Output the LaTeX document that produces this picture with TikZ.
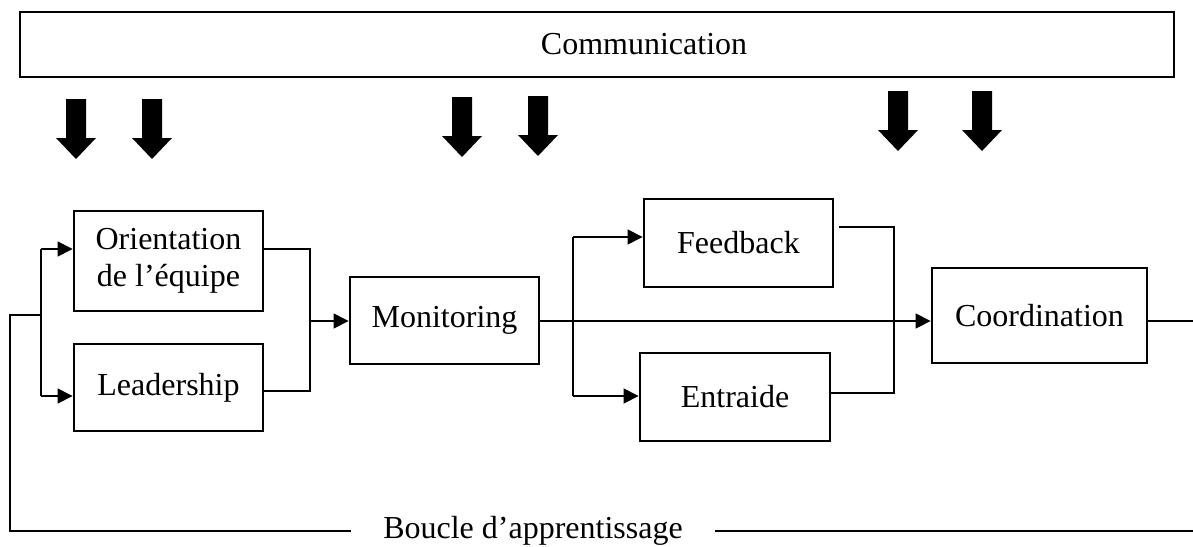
\documentclass[tikz,border=0pt]{standalone}
\usepackage{fontspec}
\setmainfont{Liberation Serif}
\usetikzlibrary{arrows.meta}
\begin{document}
\begin{tikzpicture}[x=1pt,y=-1pt,
  box/.style={draw,line width=2.8pt,inner sep=0pt,align=center,font=\fontsize{32}{37}\selectfont},
  lbl/.style={inner sep=0pt,font=\fontsize{32}{37}\selectfont},
  conn/.style={line width=1.1pt},
  arr/.style={conn,-{Triangle[length=15pt,width=15pt]}},
  blockarrow/.pic={\fill (-10,0) -- (10,0) -- (10,39) -- (20,39) -- (0,60) -- (-20,39) -- (-10,39) -- cycle;}
]
\useasboundingbox (0,0) rectangle (1193,546);

% Communication bar
\node[box,minimum width=1154,minimum height=65] (comm) at (597,44.5) {};
\node[lbl] (commtext) at (644,44.5) {Communication};

% block arrows
\foreach \x/\y in {76/99,152/99,462/97,538/96,898/91,982/91}
  \pic at (\x,\y) {blockarrow};

% boxes
\node[box,minimum width=189,minimum height=100] (orient) at (168.5,261) {Orientation\\de l’équipe};
\node[box,minimum width=189,minimum height=87] (lead) at (168.5,387.5) {Leadership};
\node[box,minimum width=189,minimum height=87] (mon) at (444.5,320.5) {Monitoring};
\node[box,minimum width=189,minimum height=88] (feed) at (738.5,243) {Feedback};
\node[box,minimum width=190,minimum height=88] (entr) at (735,397) {Entraide};
\node[box,minimum width=215,minimum height=95] (coord) at (1039.5,315.5) {Coordination};
\node[lbl,anchor=base,inner xsep=32pt] (boucle) at (533,538.5) {Boucle d’apprentissage};

% learning loop
\coordinate (loopR) at (1193,531);
\coordinate (loopL) at (10,531);
\coordinate (loopUp) at (10,315);
\coordinate (split1) at (41,315);
\coordinate (s1top) at (41,249);
\coordinate (s1bot) at (41,396);
\draw[conn] (loopR) -- (boucle.east |- loopR);
\draw[conn] (boucle.west |- loopL) -- (loopL) -- (loopUp) -- (split1);
\draw[conn] (s1top) -- (s1bot);
\draw[arr] (s1top) -- (s1top -| orient.west);
\draw[arr] (s1bot) -- (s1bot -| lead.west);

% merge into Monitoring
\coordinate (m1top) at (310,249);
\coordinate (m1bot) at (310,391);
\coordinate (m1mid) at (310,321);
\draw[conn] (m1top -| orient.east) -- (m1top) -- (m1bot) -- (m1bot -| lead.east);
\draw[arr] (m1mid) -- (m1mid -| mon.west);

% main line Monitoring -> Coordination
\draw[arr] (mon.east |- m1mid) -- (m1mid -| coord.west);

% split to Feedback / Entraide
\coordinate (s2top) at (573,237);
\coordinate (s2bot) at (573,396);
\draw[conn] (s2top) -- (s2bot);
\draw[arr] (s2top) -- (s2top -| feed.west);
\draw[arr] (s2bot) -- (s2bot -| entr.west);

% merge from Feedback / Entraide
\coordinate (feedout) at (839,227);
\coordinate (m2top) at (894,227);
\coordinate (m2bot) at (894,393);
\draw[conn] (feedout) -- (m2top) -- (m2bot) -- (m2bot -| entr.east);

% output of Coordination
\coordinate (outR) at (1193,321);
\draw[conn] (coord.east |- outR) -- (outR);
\end{tikzpicture}
\end{document}
